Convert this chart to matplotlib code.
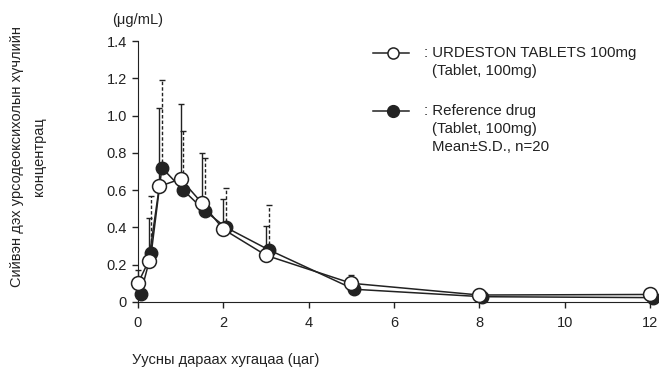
import matplotlib
matplotlib.use('Agg')
import matplotlib.pyplot as plt
from matplotlib.lines import Line2D
import numpy as np

plt.rcParams['font.family'] = ['Liberation Sans', 'DejaVu Sans']

# sampling times (h)
t = np.array([0, 0.25, 0.5, 1, 1.5, 2, 3, 5, 8, 12])

# URDESTON TABLETS 100mg (open circles)
test_mean = np.array([0.10, 0.22, 0.62, 0.66, 0.53, 0.39, 0.25, 0.10, 0.037, 0.040])
test_sd = np.array([0.07, 0.23, 0.42, 0.40, 0.27, 0.16, 0.16, 0.045, 0.033, 0.030])

# Reference drug (filled circles)
ref_mean = np.array([0.043, 0.26, 0.72, 0.60, 0.49, 0.40, 0.28, 0.068, 0.028, 0.023])
ref_sd = np.array([0.04, 0.31, 0.47, 0.32, 0.28, 0.21, 0.24, 0.05, 0.03, 0.025])

xticks = [0, 2, 4, 6, 8, 10, 12]
yticks = [0, 0.2, 0.4, 0.6, 0.8, 1.0, 1.2, 1.4]
ytick_labels = ['0', '0.2', '0.4', '0.6', '0.8', '1.0', '1.2', '1.4']

dodge = 0.06  # reference points drawn slightly right, as in the original
ink = '#222222'

fig = plt.figure(figsize=(6.59, 3.70), dpi=100)
ax = fig.add_axes([0.2094, 0.184, 0.787, 0.705])

# error bars (upper only)
eb = ax.errorbar(t + dodge, ref_mean, yerr=[np.zeros_like(ref_sd), ref_sd],
                 fmt='none', ecolor=ink, elinewidth=1, capsize=2.5,
                 capthick=1, zorder=2, clip_on=False)
for lc in eb[2]:
    lc.set_linestyle((0, (2.5, 1.5)))
ax.errorbar(t, test_mean, yerr=[np.zeros_like(test_sd), test_sd],
            fmt='none', ecolor=ink, elinewidth=1, capsize=2.5,
            capthick=1, zorder=2, clip_on=False)

ax.plot(t + dodge, ref_mean, '-o', color=ink, mfc=ink, mec=ink,
        ms=9, lw=1.1, zorder=3, clip_on=False)
ax.plot(t, test_mean, '-o', color=ink, mfc='white', mec=ink,
        ms=10, mew=1.1, lw=1.1, zorder=4, clip_on=False)

ax.set_xlim(0, 12.15)
ax.set_ylim(0, 1.4)
ax.set_xticks(xticks)
ax.set_yticks(yticks)
ax.set_yticklabels(ytick_labels)
ax.spines['top'].set_visible(False)
ax.spines['right'].set_visible(False)
ax.spines['left'].set_color(ink)
ax.spines['bottom'].set_color(ink)
ax.tick_params(direction='out', length=4, width=1, colors=ink,
               labelsize=10.5, labelcolor=ink, pad=4)
ax.tick_params(axis='x', pad=6)

ax.annotate('(μg/mL)', xy=(0, 1), xycoords='axes fraction',
            xytext=(0, 15.5), textcoords='offset points',
            ha='center', va='center', fontsize=10.5, color=ink)

fig.text(0.042, 0.578, 'Сийвэн дэх урсодеоксихолын хүчлийн\nконцентрац',
         rotation=90, ha='center', va='center', fontsize=10.5,
         color=ink, linespacing=1.7)
fig.text(0.2, 0.027, 'Уусны дараах хугацаа (цаг)', ha='left', va='center',
         fontsize=10.5, color=ink)

# hand-made legend
y1, y2 = 0.857, 0.700
fig.add_artist(Line2D([0.566, 0.621], [y1, y1], color=ink, lw=1.1,
                      transform=fig.transFigure))
fig.add_artist(Line2D([0.596], [y1], color=ink, marker='o', ms=8,
                      mfc='white', mec=ink, mew=1.1, ls='none',
                      transform=fig.transFigure))
fig.add_artist(Line2D([0.566, 0.621], [y2, y2], color=ink, lw=1.1,
                      transform=fig.transFigure))
fig.add_artist(Line2D([0.596], [y2], color=ink, marker='o', ms=8.5,
                      mfc=ink, mec=ink, ls='none',
                      transform=fig.transFigure))

fs_leg = 10.8
fig.text(0.643, y1, ': URDESTON TABLETS 100mg', ha='left', va='center',
         fontsize=fs_leg, color=ink)
fig.text(0.655, y1 - 0.049, '(Tablet, 100mg)', ha='left', va='center',
         fontsize=fs_leg, color=ink)
fig.text(0.643, y2, ': Reference drug', ha='left', va='center',
         fontsize=fs_leg, color=ink)
fig.text(0.655, y2 - 0.049, '(Tablet, 100mg)', ha='left', va='center',
         fontsize=fs_leg, color=ink)
fig.text(0.655, y2 - 0.098, 'Mean±S.D., n=20', ha='left', va='center',
         fontsize=fs_leg, color=ink)

fig.savefig('out.png', dpi=100)
